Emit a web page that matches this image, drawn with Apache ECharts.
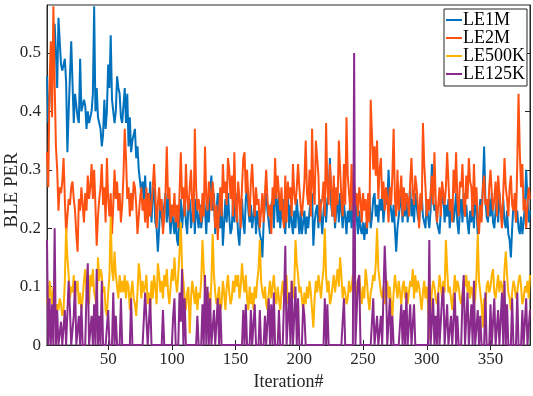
<!DOCTYPE html>
<html>
<head>
<meta charset="utf-8">
<title>BLE PER</title>
<script src="https://cdn.jsdelivr.net/npm/echarts@6/dist/echarts.min.js"></script>
<style>
    html, body { margin: 0; padding: 0; background: #fff; }
    #chart { width: 533px; height: 396px; }
</style>
</head>
<body>
<div id="chart"></div>
<script>
// first iteration shown on the x axis, values follow one per iteration
const firstIteration = 2;
const xTicks = [50, 100, 150, 200, 250, 300, 350];
const yTicks = [0, 0.1, 0.2, 0.3, 0.4, 0.5];
const seriesNames = ['LE1M', 'LE2M', 'LE500K', 'LE125K'];

const le1m = [
    0.46,0.38,0.42,0.48,0.47,0.52,0.55,0.50,0.44,0.56,0.52,0.48,0.47,0.47,0.49,0.45,0.33,0.40,0.46,0.52,
    0.45,0.38,0.43,0.41,0.39,0.38,0.49,0.40,0.41,0.42,0.41,0.37,0.40,0.38,0.39,0.40,0.43,0.58,0.40,0.44,
    0.39,0.38,0.37,0.34,0.36,0.42,0.37,0.40,0.48,0.44,0.53,0.42,0.42,0.38,0.40,0.46,0.44,0.43,0.39,0.38,
    0.41,0.44,0.38,0.43,0.34,0.39,0.33,0.35,0.36,0.37,0.32,0.34,0.30,0.28,0.26,0.28,0.25,0.29,0.24,0.26,
    0.23,0.28,0.21,0.26,0.27,0.21,0.20,0.16,0.20,0.25,0.22,0.20,0.24,0.26,0.21,0.25,0.22,0.19,0.24,0.21,
    0.19,0.23,0.18,0.17,0.22,0.25,0.20,0.23,0.26,0.21,0.19,0.24,0.25,0.20,0.22,0.26,0.19,0.25,0.22,0.20,
    0.24,0.20,0.22,0.26,0.23,0.19,0.25,0.21,0.26,0.29,0.23,0.26,0.19,0.23,0.26,0.21,0.20,0.25,0.17,0.21,
    0.25,0.21,0.26,0.22,0.19,0.20,0.25,0.21,0.26,0.23,0.19,0.17,0.22,0.25,0.21,0.19,0.25,0.27,0.23,0.21,
    0.24,0.20,0.22,0.25,0.19,0.23,0.21,0.19,0.18,0.15,0.21,0.24,0.26,0.23,0.21,0.19,0.24,0.25,0.20,0.26,
    0.25,0.21,0.26,0.20,0.23,0.25,0.21,0.19,0.24,0.26,0.20,0.24,0.21,0.19,0.23,0.20,0.25,0.22,0.19,0.23,
    0.19,0.21,0.23,0.19,0.22,0.20,0.23,0.25,0.26,0.17,0.21,0.23,0.24,0.20,0.25,0.22,0.19,0.23,0.25,0.21,
    0.25,0.26,0.32,0.24,0.22,0.25,0.20,0.23,0.25,0.21,0.26,0.23,0.20,0.24,0.22,0.19,0.23,0.21,0.25,0.20,
    0.23,0.21,0.25,0.22,0.19,0.23,0.20,0.19,0.21,0.18,0.21,0.19,0.24,0.26,0.20,0.22,0.25,0.26,0.22,0.24,
    0.21,0.25,0.23,0.26,0.21,0.24,0.26,0.24,0.30,0.25,0.23,0.21,0.24,0.20,0.16,0.20,0.22,0.24,0.26,0.21,
    0.25,0.22,0.26,0.21,0.24,0.27,0.22,0.25,0.21,0.26,0.24,0.22,0.21,0.25,0.26,0.22,0.21,0.20,0.25,0.22,
    0.20,0.23,0.31,0.25,0.23,0.24,0.21,0.20,0.19,0.23,0.25,0.26,0.21,0.24,0.22,0.25,0.20,0.23,0.25,0.21,
    0.23,0.26,0.21,0.19,0.23,0.25,0.21,0.26,0.22,0.24,0.21,0.19,0.23,0.21,0.25,0.20,0.26,0.23,0.19,0.22,
    0.25,0.22,0.27,0.34,0.25,0.22,0.21,0.25,0.22,0.26,0.21,0.20,0.23,0.25,0.21,0.26,0.23,0.21,0.25,0.21,
    0.20,0.23,0.19,0.18,0.15,0.20,0.24,0.25,0.21,0.23,0.20,0.19,0.22,0.19,0.21,0.24,0.30,0.25,0.21,0.23
];

const le2m = [
    0.33,0.27,0.45,0.52,0.39,0.58,0.45,0.34,0.30,0.23,0.27,0.26,0.28,0.32,0.25,0.19,0.22,0.25,0.24,0.27,
    0.28,0.25,0.23,0.19,0.16,0.25,0.23,0.27,0.24,0.21,0.26,0.23,0.29,0.25,0.27,0.31,0.25,0.30,0.24,0.17,
    0.22,0.25,0.27,0.31,0.24,0.27,0.21,0.32,0.25,0.22,0.26,0.19,0.24,0.30,0.25,0.28,0.23,0.26,0.21,0.24,
    0.29,0.37,0.32,0.25,0.27,0.22,0.26,0.23,0.28,0.27,0.24,0.19,0.22,0.25,0.27,0.23,0.25,0.21,0.27,0.20,
    0.26,0.22,0.24,0.27,0.31,0.26,0.20,0.24,0.27,0.23,0.25,0.19,0.22,0.26,0.34,0.25,0.27,0.21,0.24,0.22,
    0.26,0.21,0.24,0.20,0.26,0.33,0.25,0.27,0.22,0.31,0.25,0.23,0.27,0.30,0.24,0.21,0.37,0.27,0.23,0.25,
    0.25,0.21,0.26,0.22,0.34,0.25,0.23,0.28,0.26,0.23,0.28,0.25,0.20,0.24,0.18,0.23,0.27,0.22,0.31,0.26,
    0.28,0.24,0.32,0.30,0.25,0.29,0.22,0.33,0.24,0.21,0.28,0.25,0.20,0.27,0.32,0.33,0.26,0.30,0.25,0.22,
    0.28,0.31,0.26,0.22,0.27,0.24,0.25,0.20,0.23,0.26,0.21,0.26,0.30,0.25,0.22,0.24,0.19,0.27,0.24,0.32,
    0.25,0.29,0.26,0.23,0.27,0.22,0.20,0.29,0.21,0.28,0.25,0.27,0.22,0.31,0.26,0.24,0.27,0.31,0.27,0.24,
    0.22,0.25,0.28,0.35,0.26,0.24,0.30,0.22,0.37,0.27,0.24,0.35,0.32,0.29,0.21,0.24,0.25,0.28,0.22,0.38,
    0.27,0.24,0.31,0.27,0.22,0.29,0.21,0.27,0.24,0.35,0.30,0.25,0.22,0.31,0.24,0.39,0.29,0.26,0.23,0.31,
    0.23,0.28,0.24,0.26,0.22,0.27,0.25,0.21,0.26,0.23,0.25,0.20,0.26,0.21,0.42,0.36,0.30,0.34,0.29,0.35,
    0.25,0.30,0.32,0.25,0.28,0.23,0.27,0.25,0.21,0.27,0.24,0.29,0.37,0.25,0.22,0.30,0.23,0.26,0.29,0.22,
    0.27,0.23,0.26,0.25,0.22,0.28,0.32,0.26,0.24,0.29,0.27,0.24,0.20,0.26,0.23,0.38,0.31,0.27,0.22,0.25,
    0.23,0.26,0.29,0.24,0.33,0.25,0.21,0.24,0.27,0.22,0.28,0.26,0.24,0.27,0.33,0.28,0.23,0.25,0.21,0.30,
    0.26,0.33,0.25,0.22,0.28,0.27,0.31,0.24,0.22,0.29,0.25,0.32,0.28,0.27,0.22,0.31,0.24,0.27,0.21,0.19,
    0.24,0.21,0.27,0.29,0.24,0.25,0.22,0.27,0.30,0.26,0.23,0.25,0.28,0.22,0.29,0.26,0.23,0.20,0.26,0.32,
    0.27,0.25,0.22,0.27,0.29,0.24,0.23,0.26,0.21,0.31,0.43,0.33,0.27,0.31,0.23,0.25,0.20,0.24,0.27,0.25
];

const le500k = [
    0.08,0.06,0.11,0.09,0.07,0.10,0.08,0.05,0.07,0.06,0.08,0.07,0.05,0.06,0.11,0.20,0.15,0.12,0.08,0.10,
    0.09,0.12,0.08,0.10,0.11,0.07,0.09,0.06,0.08,0.11,0.13,0.09,0.10,0.07,0.12,0.10,0.13,0.09,0.08,0.06,
    0.15,0.11,0.13,0.12,0.09,0.10,0.06,0.05,0.09,0.12,0.22,0.13,0.11,0.16,0.12,0.10,0.08,0.12,0.09,0.11,
    0.09,0.12,0.08,0.11,0.10,0.06,0.09,0.11,0.08,0.07,0.05,0.09,0.14,0.12,0.08,0.11,0.09,0.10,0.12,0.07,
    0.09,0.06,0.11,0.08,0.12,0.10,0.07,0.14,0.12,0.09,0.11,0.08,0.12,0.10,0.13,0.09,0.07,0.10,0.13,0.11,
    0.15,0.11,0.09,0.12,0.16,0.21,0.13,0.11,0.08,0.06,0.09,0.10,0.02,0.08,0.11,0.09,0.07,0.10,0.06,0.09,
    0.08,0.11,0.18,0.13,0.09,0.10,0.07,0.09,0.06,0.11,0.19,0.12,0.09,0.07,0.08,0.10,0.06,0.07,0.11,0.09,
    0.06,0.10,0.12,0.09,0.07,0.08,0.11,0.09,0.12,0.10,0.12,0.08,0.10,0.14,0.11,0.09,0.12,0.08,0.06,0.10,
    0.07,0.09,0.06,0.10,0.08,0.11,0.13,0.18,0.11,0.09,0.08,0.10,0.07,0.06,0.09,0.11,0.08,0.10,0.12,0.09,
    0.07,0.10,0.08,0.06,0.09,0.11,0.08,0.10,0.12,0.07,0.09,0.06,0.11,0.08,0.10,0.18,0.14,0.12,0.09,0.10,
    0.08,0.06,0.09,0.07,0.10,0.08,0.11,0.09,0.06,0.03,0.08,0.11,0.09,0.12,0.10,0.08,0.11,0.13,0.20,0.12,
    0.09,0.11,0.07,0.08,0.10,0.12,0.09,0.11,0.13,0.10,0.15,0.12,0.08,0.10,0.09,0.07,0.08,0.11,0.09,0.10,
    0.12,0.09,0.11,0.08,0.10,0.12,0.09,0.07,0.10,0.08,0.13,0.11,0.08,0.06,0.09,0.10,0.12,0.11,0.14,0.20,
    0.13,0.11,0.09,0.08,0.10,0.07,0.09,0.11,0.08,0.10,0.07,0.05,0.09,0.12,0.10,0.08,0.11,0.09,0.07,0.10,
    0.11,0.08,0.10,0.07,0.09,0.11,0.10,0.13,0.08,0.12,0.09,0.11,0.10,0.08,0.06,0.09,0.11,0.08,0.10,0.07,
    0.01,0.06,0.09,0.11,0.10,0.08,0.07,0.09,0.12,0.10,0.08,0.11,0.09,0.18,0.13,0.09,0.10,0.08,0.06,0.09,
    0.12,0.09,0.11,0.10,0.08,0.07,0.09,0.11,0.10,0.12,0.09,0.11,0.08,0.10,0.09,0.07,0.08,0.12,0.19,0.11,
    0.09,0.07,0.03,0.08,0.06,0.10,0.11,0.09,0.10,0.12,0.13,0.09,0.08,0.10,0.12,0.09,0.11,0.10,0.08,0.13,
    0.16,0.12,0.09,0.08,0.06,0.09,0.11,0.10,0.08,0.09,0.11,0.12,0.10,0.07,0.08,0.10,0.09,0.11,0.08,0.12
];

const le125k = [
    0.18,0,0.08,0,0.07,0,0.20,0,0.06,0,0,0.04,0,0,0.06,0,0,0.11,0.06,0,
    0,0.05,0.11,0,0,0.05,0,0.07,0,0,0,0.09,0.14,0,0,0.05,0,0.07,0,0.13,
    0,0.05,0,0.11,0,0,0,0,0.06,0,0,0,0.09,0,0.05,0,0,0,0.08,0,
    0,0,0,0,0,0,0.08,0,0,0,0,0,0,0,0,0,0,0.09,0.09,0,
    0,0.08,0,0,0,0,0,0,0,0,0,0.06,0,0,0,0,0,0,0,0.05,
    0.08,0,0,0,0.09,0.04,0.13,0,0.08,0,0,0,0,0,0,0,0,0,0.05,0,
    0,0,0.07,0,0.12,0,0.10,0,0.08,0,0,0.06,0,0,0.08,0,0.07,0,0,0,
    0,0,0,0,0,0,0,0,0,0,0,0,0,0,0.06,0,0.07,0,0,0,
    0.06,0,0,0.07,0,0,0,0.06,0,0,0,0.05,0,0,0.08,0,0.07,0,0.09,0,
    0,0,0.06,0,0,0,0.08,0.17,0,0,0.09,0,0.11,0,0.05,0.10,0,0.08,0,0,
    0,0.07,0.05,0,0,0,0,0,0,0,0,0,0,0,0,0,0,0,0.08,0,
    0.07,0,0,0,0,0,0,0,0,0,0,0,0,0.08,0,0,0,0,0,0,
    0,0.50,0,0,0.11,0.12,0,0,0,0,0,0,0,0,0,0,0.08,0,0,0.05,
    0,0,0.05,0,0,0.17,0.11,0,0,0.08,0,0.05,0,0,0,0,0,0,0.07,0,
    0.06,0,0.09,0,0,0.07,0,0,0.07,0,0,0,0,0,0,0,0,0,0,0,
    0.18,0,0,0.08,0,0.05,0,0.09,0,0,0.08,0.10,0,0,0.07,0,0,0.05,0,0,
    0.09,0,0.05,0,0,0,0.08,0.12,0,0,0.09,0,0,0.07,0,0.11,0,0,0.06,0,
    0.05,0,0,0,0.09,0,0,0,0.07,0,0,0.08,0,0,0.06,0,0,0.09,0,0.11,
    0,0.07,0,0,0,0.08,0,0,0,0.09,0,0,0,0.06,0,0,0.08,0,0,0.06
];

const colors = ['#0072BD', '#FF5112', '#FFB200', '#8A2A8C'];
const fontName = 'Liberation Serif';
const axisColor = '#262626';

/** pair every value with its iteration number */
function toPoints(values) {
    return values.map(function (v, k) {
        return [firstIteration + k, v];
    });
}

let chart = echarts.init(document.getElementById('chart'), null, {renderer: 'canvas'});

let xBase = {
    type: 'value',
    min: 2,
    max: 381,
    splitLine: {show: false},
    axisLine: {lineStyle: {color: axisColor, width: 1}},
    axisTick: {inside: true, length: 5, customValues: xTicks, lineStyle: {color: axisColor}},
    axisLabel: {customValues: xTicks, color: axisColor, fontFamily: fontName, fontSize: 17, margin: 6}
};
let yBase = {
    type: 'value',
    min: 0,
    max: 0.582,
    splitLine: {show: false},
    axisLine: {lineStyle: {color: axisColor, width: 1}},
    axisTick: {inside: true, length: 5, customValues: yTicks, lineStyle: {color: axisColor}},
    axisLabel: {customValues: yTicks, color: axisColor, fontFamily: fontName, fontSize: 17, margin: 6}
};

let option = {
    animation: false,
    backgroundColor: '#fff',
    color: colors,
    grid: {left: 47, right: 3, top: 5, bottom: 46, show: true, borderColor: axisColor, borderWidth: 1},
    legend: {
        data: seriesNames,
        orient: 'vertical',
        left: 444,
        top: 9,
        icon: 'rect',
        itemWidth: 16,
        itemHeight: 2,
        itemGap: 0,
        padding: [2, 2, 3, 2],
        backgroundColor: '#fff',
        borderColor: axisColor,
        borderWidth: 1,
        textStyle: {fontFamily: fontName, fontSize: 18, lineHeight: 17, color: '#000', padding: [0, 0, 0, -4]}
    },
    xAxis: [
        Object.assign({}, xBase, {
            position: 'bottom',
            name: 'Iteration#',
            nameLocation: 'middle',
            nameGap: 27,
            nameTextStyle: {fontFamily: fontName, fontSize: 18, color: axisColor}
        }),
        Object.assign({}, xBase, {position: 'top', axisLabel: {show: false}})
    ],
    yAxis: [
        Object.assign({}, yBase, {position: 'left'}),
        Object.assign({}, yBase, {position: 'right', axisLabel: {show: false}})
    ],
    graphic: [{
        type: 'text',
        x: 12,
        y: 190,
        rotation: Math.PI / 2,
        style: {
            text: 'BLE PER',
            fontFamily: fontName,
            fontSize: 19,
            fill: axisColor,
            align: 'center',
            verticalAlign: 'middle'
        }
    }],
    series: [le1m, le2m, le500k, le125k].map(function (values, k) {
        return {
            name: seriesNames[k],
            type: 'line',
            xAxisIndex: 0,
            yAxisIndex: 0,
            showSymbol: false,
            symbol: 'none',
            lineStyle: {width: 2, color: colors[k]},
            data: toPoints(values)
        };
    })
};

chart.setOption(option);
</script>
</body>
</html>
